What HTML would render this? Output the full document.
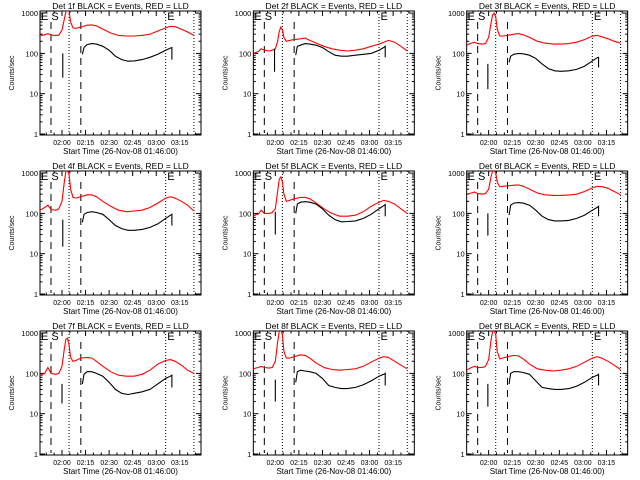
<!DOCTYPE html>
<html><head><meta charset="utf-8"><style>
html,body{margin:0;padding:0;background:#fff;}
svg{display:block;font-family:"Liberation Sans",sans-serif;}
</style></head><body>
<svg id="root" width="640" height="480" viewBox="0 0 640 480">
<rect width="640" height="480" fill="#fff"/>
</svg>
<script>
// ---- data ----
const times = [0,3,5,7,10,12,14,15.5,16.5,17.5,18.5,19.5,21,23,26,30,33,36,40,45,50,55,60,65,70,75,80,83,86,90,94,98];
const blackTimes = [27,28,30,33,36,40,44,48,52,56,60,65,70,75,80,83,84,84];
const detNames = ["1f","2f","3f","4f","5f","6f","7f","8f","9f"];
const red1 = [280,290,310,285,280,285,380,700,1100,1200,1100,600,430,420,450,500,510,480,400,320,280,270,270,280,300,360,430,470,460,400,340,280];
const red2 = [100,110,130,120,115,120,130,200,350,450,380,250,200,210,220,230,240,210,180,150,130,120,115,120,130,150,170,190,210,190,150,115];
const red3 = [160,180,190,175,170,175,250,550,900,1000,800,400,270,270,280,300,310,290,250,200,180,170,170,175,190,220,270,280,260,230,200,180];
const red4 = [120,140,160,125,120,130,200,600,1100,1200,900,400,250,240,260,290,290,260,200,150,120,110,115,120,140,180,240,260,240,200,160,115];
const red5 = [90,95,120,100,100,105,130,350,700,800,600,300,200,210,230,250,250,230,180,130,100,85,85,90,110,150,190,210,200,170,130,100];
const red6 = [300,320,340,310,300,310,400,800,1100,1200,1000,600,460,470,480,500,510,470,400,320,290,280,280,285,300,350,430,470,460,420,350,290];
const red7 = [90,100,140,100,95,100,150,400,700,750,500,250,200,210,240,250,240,200,150,110,90,85,85,95,120,170,210,220,200,160,120,100];
const red8 = [130,140,150,140,135,140,200,600,1100,1200,900,350,240,240,260,290,280,240,180,140,125,120,125,130,150,190,240,260,250,200,160,130];
const red9 = [120,140,150,140,140,150,220,650,1100,1200,900,350,230,240,260,280,270,230,170,130,120,115,120,130,150,190,240,260,240,200,160,125];
const black1 = [95,140,165,175,170,150,120,85,70,64,65,70,80,95,120,135,140,70];
const black2 = [90,150,160,175,170,160,140,110,90,85,85,90,95,100,120,140,150,80];
const black3 = [60,85,95,100,98,90,75,55,42,37,36,37,40,48,65,78,80,45];
const black4 = [60,95,105,110,105,95,70,50,42,38,38,40,45,55,75,90,95,50];
const black5 = [100,170,190,195,190,170,130,90,70,62,63,65,75,95,130,155,165,85];
const black6 = [90,160,180,185,180,160,120,85,70,65,65,67,75,90,120,140,150,85];
const black7 = [55,95,110,110,100,85,60,40,32,30,32,35,40,55,75,85,90,45];
const black8 = [60,110,120,115,110,100,75,50,45,42,42,45,52,65,85,95,100,50];
const black9 = [55,100,110,110,105,95,65,45,42,40,40,42,48,60,80,90,95,50];
const spikeTime = [14.5,13.5,13.5,14.5,14,13.5,14,14,13.5];
const spikeLo = [25,35,13,15,30,28,18,20,15];
const spikeHi = [100,130,55,70,110,100,55,70,55];
const yTickLabels = ["1","10","100","1000"];
const xTickLabels = ["02:00","02:15","02:30","02:45","03:00","03:15"];
const dashedTimes = [7,26];
const dottedTimes = [18.5,80,98];

const reds=[red1,red2,red3,red4,red5,red6,red7,red8,red9];
const blacks=[black1,black2,black3,black4,black5,black6,black7,black8,black9];
const NS="http://www.w3.org/2000/svg";
const root=document.getElementById('root');
const L=40,R=201,T=11,B=135,TMAX=102.5;
function mk(tag,attrs,parent){const e=document.createElementNS(NS,tag);for(const k in attrs)e.setAttribute(k,attrs[k]);parent.appendChild(e);return e;}
const xs=t=>L+(R-L)*t/TMAX;
const ys=v=>134-40.3*Math.log10(v);

for(let p=0;p<9;p++){
  const ox=(p%3)*213.33, oy=Math.floor(p/3)*160;
  const g=mk('g',{transform:`translate(${ox.toFixed(2)},${oy})`},root);
  
  
  const cid='clip'+p;
  const cp=mk('clipPath',{id:cid},g);mk('rect',{x:L,y:T,width:R-L,height:B-T},cp);
  const tt=mk('text',{x:(L+R)/2,y:9,'font-size':8.5,'text-anchor':'middle',fill:'#000'},g);
  tt.textContent='Det '+detNames[p]+' BLACK = Events, RED = LLD';
  
  
  const fr=mk('rect',{x:L,y:T,width:R-L,height:B-T,fill:'none',stroke:'#000','stroke-width':1},g);
  
  
  for(let d=0;d<=3;d++){
    const y=ys(Math.pow(10,d));
    mk('line',{x1:L,x2:L+5,y1:y,y2:y,stroke:'#000'},g);
    mk('line',{x1:R-5,x2:R,y1:y,y2:y,stroke:'#000'},g);
    const lb=mk('text',{x:L-2,y:y+3,'font-size':7.5,'text-anchor':'end'},g);
    lb.textContent=yTickLabels[d];
    
    
    if(d<3)for(let m=2;m<10;m++){const yy=ys(m*Math.pow(10,d));
      mk('line',{x1:L,x2:L+2.5,y1:yy,y2:yy,stroke:'#000'},g);
      mk('line',{x1:R-2.5,x2:R,y1:yy,y2:yy,stroke:'#000'},g);}
  }
  for(let t=4;t<TMAX;t+=5){const x=xs(t);const major=((t-14)%15===0);const h=major?5:2.5;
    mk('line',{x1:x,x2:x,y1:B,y2:B-h,stroke:'#000'},g);
    mk('line',{x1:x,x2:x,y1:T,y2:T+h,stroke:'#000'},g);}
  xTickLabels.forEach((s,i)=>{const lb=mk('text',{x:xs(14+15*i),y:145,'font-size':7,'text-anchor':'middle'},g);lb.textContent=s;
    
    });
  const xt=mk('text',{x:(L+R)/2,y:154,'font-size':8,'text-anchor':'middle'},g);
  xt.textContent='Start Time (26-Nov-08 01:46:00)';
  
  
  const yt=mk('text',{x:0,y:0,'font-size':7,'text-anchor':'middle',transform:'translate(14,73) rotate(-90)'},g);
  yt.textContent='Counts/sec';
  
  
  dashedTimes.forEach(t=>{const l=mk('line',{x1:xs(t),x2:xs(t),y1:22,y2:133,stroke:'#000','stroke-dasharray':'7,5'},g);
    
    });
  dottedTimes.forEach(t=>{const l=mk('line',{x1:xs(t),x2:xs(t),y1:T,y2:B,stroke:'#000','stroke-dasharray':'1,2'},g);
    
    });
  const es=mk('text',{x:L+1,y:T+9,'font-size':11},g);es.textContent='E S';
  
  
  const e2=mk('text',{x:xs(81),y:T+9,'font-size':11},g);e2.textContent='E';
  
  
  const cg=mk('g',{'clip-path':`url(#${cid})`},g);
  const rp=mk('polyline',{points:times.map((t,i)=>xs(t).toFixed(1)+','+ys(reds[p][i]).toFixed(1)).join(' '),fill:'none',stroke:'#ff0000','stroke-width':1.1},cg);
  
  
  const bp=mk('polyline',{points:blackTimes.map((t,i)=>xs(t).toFixed(1)+','+ys(blacks[p][i]).toFixed(1)).join(' '),fill:'none',stroke:'#000','stroke-width':1.1},cg);
  
  
  const sp=mk('line',{x1:xs(spikeTime[p]),x2:xs(spikeTime[p]),y1:ys(spikeLo[p]),y2:ys(spikeHi[p]),stroke:'#000','stroke-width':1.1},cg);
  
  
}
</script>
</body></html>
